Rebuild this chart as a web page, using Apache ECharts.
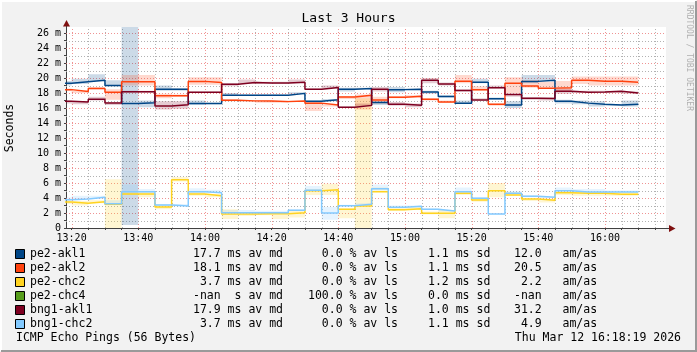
<!DOCTYPE html>
<html><head><meta charset="utf-8">
<script src="https://cdn.jsdelivr.net/npm/echarts@6/dist/echarts.min.js"></script>
<style>html,body{margin:0;padding:0;background:#f2f2f2}#c{width:697px;height:352px}</style>
</head><body><div id="c"></div>
<script>
// ---------- data ----------
const slotStarts = ['13:15','13:20','13:25','13:30','13:35','13:40','13:45','13:50','13:55',
  '14:00','14:05','14:10','14:15','14:20','14:25','14:30','14:35','14:40','14:45','14:50','14:55',
  '15:00','15:05','15:10','15:15','15:20','15:25','15:30','15:35','15:40','15:45','15:50','15:55',
  '16:00','16:05'];
const slotLength = 5; // minutes per step
const viewStart = '13:18:19';
const viewEnd = '16:18:19';
const xLabelTimes = ['13:20','13:40','14:00','14:20','14:40','15:00','15:20','15:40','16:00'];
const xGridTimes = ['13:20','13:25','13:30','13:35','13:40','13:45','13:50','13:55',
  '14:00','14:05','14:10','14:15','14:20','14:25','14:30','14:35','14:40','14:45','14:50','14:55',
  '15:00','15:05','15:10','15:15','15:20','15:25','15:30','15:35','15:40','15:45','15:50','15:55',
  '16:00','16:05','16:10','16:15'];
const yMax = 26.8;
const yLabelValues = [0,2,4,6,8,10,12,14,16,18,20,22,24,26];
const yGridValues = [1,2,3,4,5,6,7,8,9,10,11,12,13,14,15,16,17,18,19,20,21,22,23,24,25,26];

const hostNames = ['pe2-akl1','pe2-akl2','pe2-chc2','pe2-chc4','bng1-akl1','bng1-chc2'];
const hostColors = ['#004586','#ff420e','#ffd320','#579d1c','#7e0021','#83caff'];

// median RTT (ms) per 5-minute step
const medPe2Akl1 = [19.3,19.5,19.7,19.0,16.6,16.7,18.5,18.5,16.6,16.6,17.7,17.7,17.7,17.7,17.95,16.9,17.1,18.5,18.6,16.75,18.45,18.5,18.15,17.55,16.65,19.45,17.25,16.4,19.55,19.7,16.9,16.65,16.5,16.4,16.5];
const medPe2Akl2 = [18.45,18.2,18.6,18.1,19.5,19.5,17.65,17.65,19.55,19.4,17.05,16.95,16.93,16.85,16.93,16.65,16.4,17.47,17.7,17.07,17.42,17.56,17.16,16.8,19.56,18.45,16.5,19.29,18.92,18.65,18.7,19.69,19.56,19.56,19.42];
const medPe2Chc2 = [3.47,3.29,3.51,3.16,4.53,4.53,2.8,6.44,4.53,4.31,1.87,1.87,1.91,1.91,2.04,4.98,5.11,2.49,2.93,4.84,2.44,2.58,1.96,1.96,4.62,3.73,4.98,4.4,3.87,3.69,4.71,4.62,4.62,4.49,4.49];
const medPe2Chc4 = [null,null,null,null,null,null,null,null,null,null,null,null,null,null,null,null,null,null,null,null,null,null,null,null,null,null,null,null,null,null,null,null,null,null,null];
const medBng1Akl1 = [16.89,16.8,17.16,16.67,18.18,18.18,16.27,16.44,18.09,18.09,19.16,19.4,19.33,19.33,19.45,18.5,18.73,16.09,16.35,18.5,16.5,16.38,19.69,19.2,18.33,17.07,18.71,17.8,17.3,17.26,18.22,18.11,18.13,18.22,18.0];
const medBng1Chc2 = [3.78,3.87,4.09,3.24,4.84,4.84,3.07,2.93,4.84,4.71,2.04,2.04,2.04,2.04,2.36,5.02,2.0,2.98,3.16,5.24,2.76,2.89,2.49,2.27,4.84,3.96,1.87,4.62,4.22,4.09,4.98,4.8,4.8,4.8,4.8];

// smoke band (low / high, ms) per step
const loPe2Akl1 = [19.0,19.2,19.6,18.9,0.4,16.1,18.3,18.3,16.4,16.5,17.6,17.6,17.6,17.6,17.8,16.7,16.9,18.2,18.5,16.4,18.1,18.4,17.9,17.4,16.6,19.3,17.1,16.0,19.3,19.6,16.6,16.5,16.2,16.3,16.2];
const hiPe2Akl1 = [19.6,19.9,20.5,19.7,30.0,17.0,19.0,18.6,17.0,16.7,18.0,17.8,17.8,17.8,18.1,17.0,17.2,18.7,18.7,16.9,18.8,18.6,18.3,17.7,17.0,19.9,17.4,16.9,20.4,20.4,17.1,17.0,16.9,16.5,17.0];
const loPe2Akl2 = [18.3,18.0,18.5,17.1,19.0,19.0,17.3,17.5,19.1,19.1,16.9,16.8,16.7,16.7,16.8,15.6,16.2,17.2,15.8,16.6,17.3,17.4,17.0,16.7,19.3,18.3,16.3,18.0,18.7,18.7,18.2,19.2,19.0,19.0,19.0];
const hiPe2Akl2 = [18.6,18.3,18.8,18.5,20.4,20.4,17.9,17.8,20.1,20.1,17.2,17.0,17.0,17.0,17.0,16.9,16.5,17.6,17.8,17.5,17.6,17.7,17.3,17.0,20.4,18.9,16.6,20.1,19.7,19.5,19.6,20.2,20.2,20.2,20.2];
const loPe2Chc2 = [3.2,3.0,3.3,0.0,4.4,4.1,2.5,6.2,4.3,4.1,1.2,1.6,1.7,1.2,1.4,4.4,4.4,1.3,0.0,5.0,2.3,2.4,1.8,1.3,4.4,3.5,4.1,4.3,3.6,3.4,4.4,4.3,4.3,4.3,4.3];
const hiPe2Chc2 = [3.7,3.6,3.7,6.5,4.9,4.8,3.0,6.8,4.8,4.5,2.5,2.1,2.1,2.1,2.3,5.2,5.9,2.6,17.3,5.4,2.8,2.8,2.2,2.4,4.9,3.9,6.0,4.8,4.0,3.9,5.0,4.8,4.8,4.8,4.8];
const loPe2Chc4 = medPe2Chc4;
const hiPe2Chc4 = medPe2Chc4;
const loBng1Akl1 = [16.6,16.5,17.0,16.4,18.0,18.0,15.8,15.9,18.0,18.0,18.9,19.2,19.2,19.2,19.2,18.4,18.6,16.0,16.2,18.2,16.3,16.1,19.3,19.0,18.2,17.0,18.6,17.5,17.1,17.0,17.9,18.0,18.0,18.0,17.9];
const hiBng1Akl1 = [17.0,16.9,17.5,16.8,18.3,18.3,16.9,16.9,18.2,18.2,19.3,19.8,19.5,19.5,19.8,18.6,19.0,16.2,16.6,18.8,16.8,16.6,20.0,19.4,18.5,17.3,19.0,17.9,17.4,17.4,18.6,18.3,18.3,18.3,18.2];
const loBng1Chc2 = [3.7,3.8,4.0,3.2,4.8,4.7,2.9,2.9,4.7,4.7,2.0,2.0,2.0,2.0,2.3,4.9,1.1,2.9,3.0,5.0,2.7,2.8,2.4,2.2,4.8,3.9,1.8,4.6,4.1,4.0,4.9,4.8,4.8,4.8,4.8];
const hiBng1Chc2 = [4.1,4.3,4.3,3.7,5.8,5.2,3.2,3.2,5.3,5.1,2.4,2.4,2.3,2.3,2.5,5.6,2.8,3.1,3.3,5.8,3.0,3.0,2.6,2.4,5.4,4.1,1.95,4.9,4.4,4.2,5.4,5.2,5.2,5.0,5.0];

// legend statistics
const statMedian = ['17.7 ms','18.1 ms',' 3.7 ms','-nan  s','17.9 ms',' 3.7 ms'];
const statLoss = ['  0.0 %','  0.0 %','  0.0 %','100.0 %','  0.0 %','  0.0 %'];
const statSd = ['1.1 ms','1.1 ms','1.2 ms','0.0 ms','1.0 ms','1.1 ms'];
const statAmAs = ['12.0','20.5',' 2.2','-nan','31.2',' 4.9'];
const titleText = 'Last 3 Hours';
const yAxisName = 'Seconds';
const footerLeft = 'ICMP Echo Pings (56 Bytes)';
const footerRight = 'Thu Mar 12 16:18:19 2026';
const watermark = 'RRDTOOL / TOBI OETIKER';

// ---------- build ----------
const medians = [medPe2Akl1, medPe2Akl2, medPe2Chc2, medPe2Chc4, medBng1Akl1, medBng1Chc2];
const lows = [loPe2Akl1, loPe2Akl2, loPe2Chc2, loPe2Chc4, loBng1Akl1, loBng1Chc2];
const highs = [hiPe2Akl1, hiPe2Akl2, hiPe2Chc2, hiPe2Chc4, hiBng1Akl1, hiBng1Chc2];

function toMin(s){ const p = s.split(':').map(Number); return p[0]*60 + p[1] + (p[2]||0)/60; }
function fmtTime(v){ const h = Math.floor(v/60), m = Math.round(v - h*60); return h + ':' + String(m).padStart(2,'0'); }
function rgba(hex, a){ const n = parseInt(hex.slice(1),16); return 'rgba('+(n>>16)+','+((n>>8)&255)+','+(n&255)+','+a+')'; }

const X_MIN = toMin(viewStart), X_MAX = toMin(viewEnd);
const MONO = '"DejaVu Sans Mono", monospace';
const MINOR = 'rgba(170,170,170,0.9)';
const MAJOR = 'rgba(235,120,120,0.8)';
const majorX = xLabelTimes.map(toMin);

const series = [];
// vertical grid
series.push({
  type:'custom', silent:true, z:1, clip:false,
  data: xGridTimes.map(t => [toMin(t), 0]),
  encode:{x:0, y:1},
  renderItem:(params, api) => {
    const xv = api.value(0);
    const a = api.coord([xv, 0]), b = api.coord([xv, yMax]);
    const px = Math.round(a[0]) + 0.5;
    const major = majorX.some(m => Math.abs(m - xv) < 0.01);
    return {type:'line', shape:{x1:px, y1:a[1], x2:px, y2:b[1]},
      style:{stroke: major ? MAJOR : MINOR, lineWidth:1, lineDash:[1,2]}};
  }
});
// horizontal grid
series.push({
  type:'custom', silent:true, z:1, clip:false,
  data: yGridValues.map(v => [X_MIN, v]),
  encode:{x:0, y:1},
  renderItem:(params, api) => {
    const yv = api.value(1);
    const a = api.coord([X_MIN, yv]), b = api.coord([X_MAX, yv]);
    const py = Math.round(a[1]) + 0.5;
    const major = yv % 2 === 0;
    return {type:'line', shape:{x1:a[0], y1:py, x2:b[0], y2:py},
      style:{stroke: major ? MAJOR : MINOR, lineWidth:1, lineDash:[1,2]}};
  }
});
// smoke bands
hostNames.forEach((name, k) => {
  series.push({
    type:'custom', silent:true, z:2,
    data: slotStarts.map((t, i) => [toMin(t), toMin(t) + slotLength, lows[k][i], highs[k][i]])
      .filter(d => d[2] !== null),
    encode:{x:[0,1], y:[2,3]},
    renderItem:(params, api) => {
      const p0 = api.coord([api.value(0), api.value(3)]);
      const p1 = api.coord([api.value(1), api.value(2)]);
      const r = echarts.graphic.clipRectByRect(
        {x:p0[0], y:p0[1], width:p1[0]-p0[0], height:p1[1]-p0[1]}, params.coordSys);
      if (!r) return null;
      return {type:'rect', shape:r, style:{fill: rgba(hostColors[k], 0.2)}};
    }
  });
});
// median lines
hostNames.forEach((name, k) => {
  const med = medians[k];
  const pts = slotStarts.map((t, i) => [toMin(t), med[i]]);
  pts.push([toMin(slotStarts[slotStarts.length-1]) + slotLength, med[med.length-1]]);
  series.push({
    name, type:'line', step:'end', z:3, showSymbol:false, silent:true,
    data: pts, connectNulls:false,
    lineStyle:{color: hostColors[k], width:1.5}, itemStyle:{color: hostColors[k]}
  });
});

// ---------- graphics ----------
const g = [];
g.push({type:'text', left:'center', top:12, style:{text:titleText, font:'13px '+MONO, fill:'#000'}});
g.push({type:'text', x:10, y:128, rotation:Math.PI/2, style:{text:yAxisName, font:'11.5px '+MONO, fill:'#000', align:'center', verticalAlign:'middle'}});
g.push({type:'text', x:689, y:5, rotation:-Math.PI/2, style:{text:watermark, font:'8px '+MONO, fill:'#b0b0b0', align:'left', verticalAlign:'middle'}});
// arrows
g.push({type:'line', shape:{x1:66.5, y1:27, x2:66.5, y2:24}, style:{stroke:'#404040', lineWidth:1}});
g.push({type:'polygon', shape:{points:[[63,26.5],[70,26.5],[66.5,20]]}, style:{fill:'#7f1010'}});
g.push({type:'line', shape:{x1:666, y1:228.5, x2:670, y2:228.5}, style:{stroke:'#404040', lineWidth:1}});
g.push({type:'polygon', shape:{points:[[669,225],[669,232],[675.5,228.5]]}, style:{fill:'#7f1010'}});
// legend
const rowY = [254,268,282,296,310,324];
hostNames.forEach((name, k) => {
  const y = rowY[k];
  g.push({type:'rect', shape:{x:15.5, y:y-4.5, width:9, height:9}, style:{fill:hostColors[k], stroke:'#000', lineWidth:1}});
  const font = '11.5px ' + MONO;
  g.push({type:'text', x:30, y:y, style:{text:name, font, fill:'#000', verticalAlign:'middle'}});
  g.push({type:'text', x:193, y:y, style:{text:statMedian[k] + ' av md', font, fill:'#000', verticalAlign:'middle'}});
  g.push({type:'text', x:308, y:y, style:{text:statLoss[k] + ' av ls', font, fill:'#000', verticalAlign:'middle'}});
  g.push({type:'text', x:428, y:y, style:{text:statSd[k] + ' sd', font, fill:'#000', verticalAlign:'middle'}});
  g.push({type:'text', x:514, y:y, style:{text:statAmAs[k] + '   am/as', font, fill:'#000', verticalAlign:'middle'}});
});
g.push({type:'text', x:16, y:338, style:{text:footerLeft, font:'11.5px '+MONO, fill:'#000', verticalAlign:'middle'}});
g.push({type:'text', x:681, y:338, style:{text:footerRight, font:'11.5px '+MONO, fill:'#000', align:'right', verticalAlign:'middle'}});
// frame shading
g.push({type:'polyline', shape:{points:[[1,351],[1,1],[696,1]]}, style:{stroke:'#ffffff', lineWidth:2, fill:null}});
g.push({type:'polyline', shape:{points:[[1,351],[696,351],[696,1]]}, style:{stroke:'#9a9a9a', lineWidth:2, fill:null}});

const chart = echarts.init(document.getElementById('c'), null, {renderer:'canvas', width:697, height:352});
chart.setOption({
  backgroundColor:'#f2f2f2',
  animation:false,
  grid:{left:66, right:31, top:27, bottom:124, show:true, backgroundColor:'#ffffff', borderWidth:0},
  xAxis:{
    type:'value', min:X_MIN, max:X_MAX,
    axisLine:{show:true, onZero:false, lineStyle:{color:'#404040', width:1}},
    axisTick:{show:true, customValues: xGridTimes.map(toMin), length:2, lineStyle:{color:'#404040'}},
    axisLabel:{customValues: xLabelTimes.map(toMin), formatter:v => fmtTime(v), fontFamily:MONO, fontSize:10, color:'#000', margin:5},
    splitLine:{show:false}
  },
  yAxis:{
    type:'value', min:0, max:yMax,
    axisLine:{show:true, onZero:false, lineStyle:{color:'#404040', width:1}},
    axisTick:{show:true, customValues: [0].concat(yGridValues), length:2, lineStyle:{color:'#404040'}},
    axisLabel:{customValues: yLabelValues, formatter:v => (v === 0 ? '0' : v + ' m'), fontFamily:MONO, fontSize:10, color:'#000', margin:5},
    splitLine:{show:false}
  },
  series,
  graphic:g
});
</script></body></html>
